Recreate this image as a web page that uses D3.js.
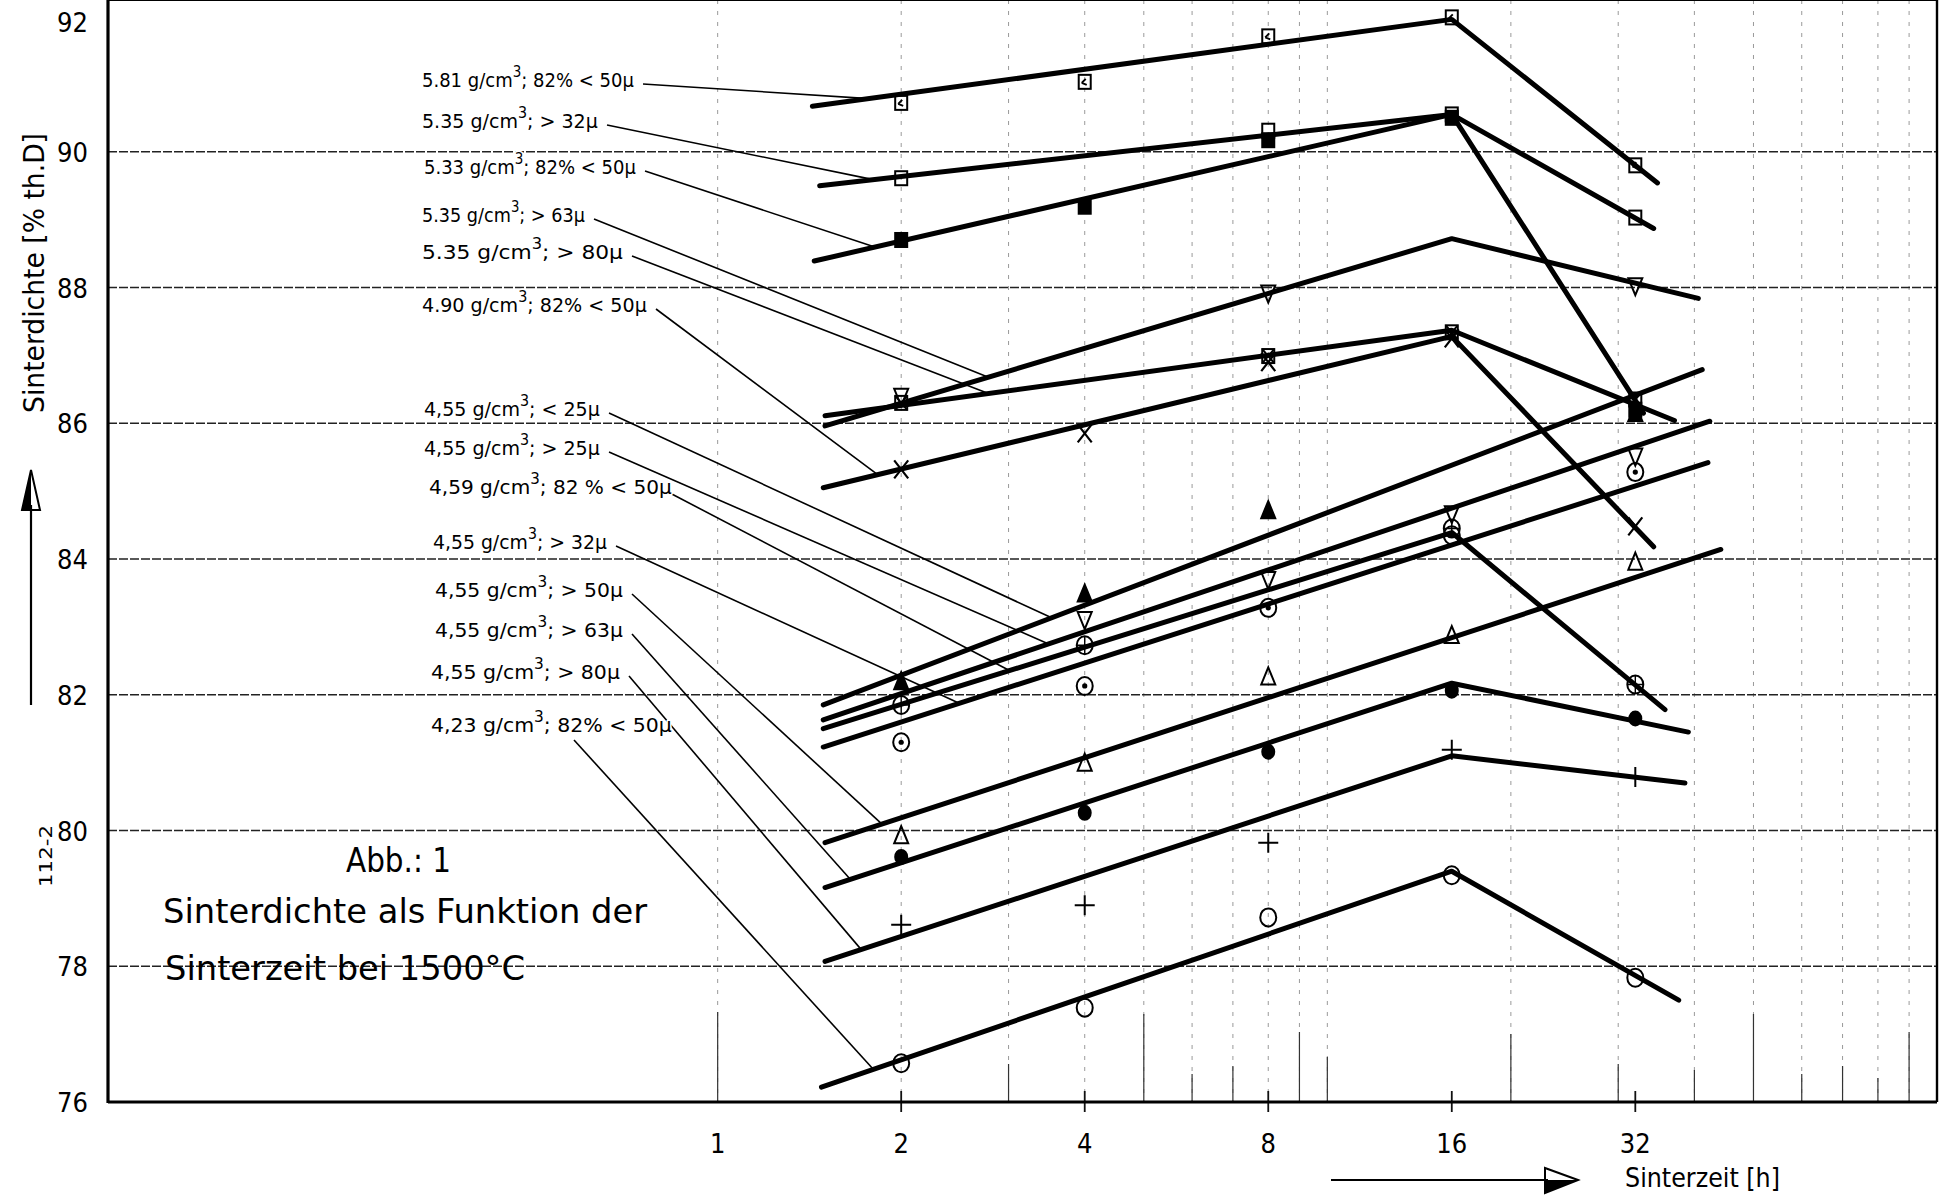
<!DOCTYPE html>
<html>
<head>
<meta charset="utf-8">
<script src="https://d3js.org/d3.v7.min.js"></script>
<style>
  body { margin: 0; background: #fff; }
</style>
</head>
<body>
<div id="chartContainer"></div>
<script>
// ---- data ----
// one entry per sample: green density, powder fraction
var densities = ["5.81", "5.35", "5.33", "5.35", "5.35", "4.90", "4,55", "4,55", "4,59", "4,55", "4,55", "4,55", "4,55", "4,23"];
var fractions = ["82% < 50µ", ">  32µ", "82% < 50µ", "> 63µ", ">  80µ", "82% < 50µ", "< 25µ", ">  25µ", "82 % < 50µ", ">  32µ", ">  50µ", ">  63µ", "> 80µ", "82% < 50µ"];
var symbols = ["squareTick", "square", "squareFilled", "triDown", "squareX", "cross45", "triFilled", "triDown", "circlePlus", "circleDot", "triUp", "dot", "plus", "circle"];

// measured sinter density [% th.D] at the sinter times (h)
var hours = [2, 4, 8, 16, 32];
var measured = [
  [90.72, 91.03, 91.70, 91.98, 89.80],
  [89.61, null, 90.31, 90.55, 89.03],
  [88.70, 89.19, 90.17, 90.50, 86.20],
  [86.39, null, 87.91, null, 88.02],
  [86.30, null, 86.99, 87.34, 86.35],
  [85.32, 85.85, 86.90, 87.25, 84.48],
  [82.20, 83.49, 84.72, null, 86.15],
  [null, 83.10, 83.69, 84.66, 85.51],
  [81.85, 82.73, null, 84.45, 82.15],
  [81.30, 82.13, 83.28, 84.35, 85.28],
  [79.93, 81.00, 82.27, 82.88, 83.96],
  [79.61, 80.26, 81.16, 82.06, 81.65],
  [78.61, 78.90, 79.82, 81.19, 80.79],
  [76.57, 77.39, 78.72, 79.34, 77.83]
];

// hand drawn trend lines: start, optional knee at 16 h, end
var fitStartH = [1.43, 1.47, 1.44, 1.5, 1.5, 1.49, 1.49, 1.49, 1.49, 1.49, 1.5, 1.5, 1.5, 1.48];
var fitStartV = [90.67, 89.50, 88.39, 85.96, 86.11, 85.05, 81.85, 81.63, 81.50, 81.23, 79.82, 79.16, 78.07, 76.22];
var fitPeakV  = [91.95, 90.55, 90.55, 88.72, 87.37, 87.28, null, null, 84.39, null, null, 82.17, 81.10, 79.40];
var fitEndH   = [34.8, 34.3, 33.0, 40.6, 37.1, 34.3, 41.2, 42.4, 35.8, 42.1, 44.2, 39.1, 38.6, 37.7];
var fitEndV   = [89.54, 88.87, 86.15, 87.84, 86.04, 84.18, 86.79, 86.03, 81.78, 85.42, 84.14, 81.45, 80.70, 77.50];

// sinter time where each label's pointer meets its line
var leaderH = [1.77, 1.80, 1.81, 2.78, 2.78, 1.83, 3.53, 3.49, 3.01, 2.49, 1.86, 1.65, 1.72, 1.80];

var yTicks = [76, 78, 80, 82, 84, 86, 88, 90, 92];
var xTicks = [1, 2, 4, 8, 16, 32];

// ---- layout ----
var W = 1949, H = 1196;
var condensed = "'DejaVu Sans Condensed', 'Liberation Sans Narrow', 'DejaVu Sans', sans-serif";
var labelX0 = [422, 422, 424, 422, 422, 422, 424, 424, 429, 433, 435, 435, 431, 431];
var labelX1 = [634, 598, 636, 585, 623, 647, 600, 600, 672, 607, 623, 623, 620, 672];
var labelBase = [87, 128, 174, 222, 259, 312, 416, 455, 494, 549, 597, 637, 679, 732];
var tickLenBottom = {1: 90, 2: 68, 3: 38, 4: 32, 5: 88, 6: 28, 7: 36, 8: 24, 9: 70};
var tickLenTop = {1: 22, 2: 60, 3: 38, 4: 36, 5: 30, 6: 18, 7: 26, 8: 18, 9: 55};

var svg = d3.select("#chartContainer").append("svg")
  .attr("width", W).attr("height", H)
  .style("background", "#fff");

var x = d3.scaleLog().domain([0.1, 100]).range([108, 1937]);
var y = d3.scaleLinear().domain([76, 92]).range([1102, 16]);
var left = x(0.1), right = x(100), top = y(92), bottom = y(76);

// log paper minors from 1 h to 90 h
var minors = [];
[1, 10].forEach(function (d) {
  for (var m = 1; m <= 9; m++) minors.push({ t: d * m, m: m });
});

// faint dashed vertical grid
svg.append("g").selectAll("line").data(minors).enter().append("line")
  .attr("x1", function (d) { return x(d.t); }).attr("x2", function (d) { return x(d.t); })
  .attr("y1", top).attr("y2", bottom)
  .attr("stroke", "#9a9a9a").attr("stroke-width", 1)
  .attr("stroke-dasharray", "4,7");

// horizontal grid
svg.append("g").selectAll("line").data(yTicks.slice(1, -1)).enter().append("line")
  .attr("x1", left).attr("x2", right)
  .attr("y1", function (d) { return y(d); }).attr("y2", function (d) { return y(d); })
  .attr("stroke", "#222").attr("stroke-width", 1.4)
  .attr("stroke-dasharray", "9,2");

// ticks rising from the time axis and hanging from the top edge
var plain = minors.filter(function (d) { return xTicks.indexOf(d.t) < 0 || d.t === 1; });
svg.append("g").selectAll("line").data(plain).enter().append("line")
  .attr("x1", function (d) { return x(d.t); }).attr("x2", function (d) { return x(d.t); })
  .attr("y1", bottom).attr("y2", function (d) { return bottom - (d.t === 10 ? 45 : tickLenBottom[d.m]); })
  .attr("stroke", "#333").attr("stroke-width", 1.2);
svg.append("g").selectAll("line").data(minors).enter().append("line")
  .attr("x1", function (d) { return x(d.t); }).attr("x2", function (d) { return x(d.t); })
  .attr("y1", top).attr("y2", function (d) { return top + (d.t === 10 ? 50 : tickLenTop[d.m]); })
  .attr("stroke", "#333").attr("stroke-width", 1.3);
svg.append("g").selectAll("line").data(xTicks.slice(1)).enter().append("line")
  .attr("x1", function (d) { return x(d); }).attr("x2", function (d) { return x(d); })
  .attr("y1", bottom - 11).attr("y2", bottom + 10)
  .attr("stroke", "#111").attr("stroke-width", 1.8);

// frame
svg.append("line").attr("x1", left).attr("x2", left).attr("y1", top - 1).attr("y2", bottom + 1)
  .attr("stroke", "#000").attr("stroke-width", 3.2);
svg.append("line").attr("x1", left).attr("x2", right).attr("y1", bottom).attr("y2", bottom)
  .attr("stroke", "#000").attr("stroke-width", 3.2);
svg.append("line").attr("x1", left).attr("x2", right).attr("y1", top).attr("y2", top)
  .attr("stroke", "#000").attr("stroke-width", 2);
svg.append("line").attr("x1", right).attr("x2", right).attr("y1", top).attr("y2", bottom)
  .attr("stroke", "#000").attr("stroke-width", 2.4);

// tick labels
svg.append("g").selectAll("text").data(yTicks).enter().append("text")
  .attr("x", 88).attr("y", function (d) { return Math.max(y(d) + 10, 32); })
  .attr("text-anchor", "end")
  .attr("font-family", condensed).attr("font-size", 27)
  .text(function (d) { return d; });
svg.append("g").selectAll("text").data(xTicks).enter().append("text")
  .attr("x", function (d) { return x(d); }).attr("y", 1153)
  .attr("text-anchor", "middle")
  .attr("font-family", condensed).attr("font-size", 27)
  .text(function (d) { return d; });

// axis titles and arrows
svg.append("text")
  .attr("transform", "translate(44,273) rotate(-90)")
  .attr("text-anchor", "middle")
  .attr("font-family", condensed).attr("font-size", 28)
  .attr("textLength", 280).attr("lengthAdjust", "spacingAndGlyphs")
  .text("Sinterdichte [% th.D]");
svg.append("text")
  .attr("transform", "translate(52,856) rotate(-90)")
  .attr("text-anchor", "middle")
  .attr("font-family", condensed).attr("font-size", 18)
  .attr("textLength", 62).attr("lengthAdjust", "spacingAndGlyphs")
  .text("112-2");

svg.append("line").attr("x1", 31).attr("x2", 31).attr("y1", 705).attr("y2", 505)
  .attr("stroke", "#000").attr("stroke-width", 2.2);
svg.append("path").attr("d", "M31,470 L22,510 L40,510 Z")
  .attr("fill", "none").attr("stroke", "#000").attr("stroke-width", 2);
svg.append("path").attr("d", "M31,470 L22,510 L31,510 Z").attr("fill", "#000");

svg.append("line").attr("x1", 1331).attr("x2", 1548).attr("y1", 1180).attr("y2", 1180)
  .attr("stroke", "#000").attr("stroke-width", 2.2);
svg.append("path").attr("d", "M1578,1180 L1545,1168 L1545,1193 Z")
  .attr("fill", "none").attr("stroke", "#000").attr("stroke-width", 2);
svg.append("path").attr("d", "M1578,1180 L1545,1180 L1545,1193 Z").attr("fill", "#000");

svg.append("text").attr("x", 1625).attr("y", 1187)
  .attr("font-family", condensed).attr("font-size", 27)
  .attr("textLength", 155).attr("lengthAdjust", "spacingAndGlyphs")
  .text("Sinterzeit [h]");

// figure caption
var caption = [
  { s: "Abb.: 1", x: 346, y: 872, w: 105 },
  { s: "Sinterdichte  als Funktion der", x: 163, y: 923, w: 484 },
  { s: "Sinterzeit bei 1500°C", x: 165, y: 980, w: 360 }
];
svg.append("g").selectAll("text").data(caption).enter().append("text")
  .attr("x", function (d) { return d.x; }).attr("y", function (d) { return d.y; })
  .attr("font-family", condensed).attr("font-size", 34)
  .attr("textLength", function (d) { return d.w; }).attr("lengthAdjust", "spacingAndGlyphs")
  .text(function (d) { return d.s; });

// ---- series ----
function fitPoints(i) {
  var p = [[fitStartH[i], fitStartV[i]]];
  if (fitPeakV[i] !== null) p.push([16, fitPeakV[i]]);
  p.push([fitEndH[i], fitEndV[i]]);
  return p;
}
function fitValueAt(i, h) {
  var p = fitPoints(i);
  for (var k = 0; k < p.length - 1; k++) {
    if (h <= p[k + 1][0] || k === p.length - 2) {
      var f = (Math.log(h) - Math.log(p[k][0])) / (Math.log(p[k + 1][0]) - Math.log(p[k][0]));
      return p[k][1] + f * (p[k + 1][1] - p[k][1]);
    }
  }
}

var line = d3.line().x(function (d) { return x(d[0]); }).y(function (d) { return y(d[1]); });

// pointers from the labels to the lines
var leaders = svg.append("g");
var labelsG = svg.append("g");
densities.forEach(function (dens, i) {
  var g = labelsG.append("g");
  var t = g.append("text")
    .attr("font-family", condensed).attr("font-size", 20)
    .attr("stroke", "#fff").attr("stroke-width", 3).attr("paint-order", "stroke")
    .attr("stroke-linejoin", "round");
  t.append("tspan").text(dens + " g/cm");
  t.append("tspan").attr("font-size", 15).attr("dy", -10).text("3");
  t.append("tspan").attr("dy", 10).text("; " + fractions[i]);
  var w = t.node().getComputedTextLength();
  var sx = (labelX1[i] - labelX0[i]) / w;
  g.attr("transform", "translate(" + labelX0[i] + "," + labelBase[i] + ") scale(" + sx + ",1)");

  var x0 = labelX1[i] + 9, y0 = labelBase[i] - 3;
  if (i === 13) { x0 = labelX0[i] + 143; y0 = labelBase[i] + 8; }
  if (i === 8) { x0 = labelX1[i] - 4; y0 = labelBase[i] - 2; }
  leaders.append("line")
    .attr("x1", x0).attr("y1", y0)
    .attr("x2", x(leaderH[i])).attr("y2", y(fitValueAt(i, leaderH[i])))
    .attr("stroke", "#000").attr("stroke-width", 1.6);
});

var fits = svg.append("g");
densities.forEach(function (d, i) {
  fits.append("path").datum(fitPoints(i))
    .attr("d", line)
    .attr("fill", "none").attr("stroke", "#000")
    .attr("stroke-width", 5).attr("stroke-linecap", "round").attr("stroke-linejoin", "round");
});

function marker(parent, kind, cx, cy) {
  var g = parent.append("g").attr("transform", "translate(" + cx + "," + cy + ")")
    .attr("stroke", "#000").attr("stroke-width", 2).attr("fill", "none");
  if (kind === "square" || kind === "squareTick" || kind === "squareX" || kind === "squareFilled") {
    g.append("rect").attr("x", -6).attr("y", -7).attr("width", 12).attr("height", 14)
      .attr("fill", kind === "squareFilled" ? "#000" : "none");
    if (kind === "squareTick") g.append("path").attr("d", "M-3,1 L1,-3 M-3,1 L2,3");
    if (kind === "squareX") g.append("path").attr("d", "M-6,-7 L6,7 M6,-7 L-6,7");
  } else if (kind === "triDown") {
    g.append("path").attr("d", "M-7,-8 L7,-8 L0,9 Z");
  } else if (kind === "triUp") {
    g.append("path").attr("d", "M0,-9 L7,8 L-7,8 Z");
  } else if (kind === "triFilled") {
    g.append("path").attr("d", "M0,-9 L7,8 L-7,8 Z").attr("fill", "#000");
  } else if (kind === "cross45") {
    g.append("path").attr("d", "M-7,-9 L7,9 M7,-9 L-7,9").attr("stroke-width", 2.2);
  } else if (kind === "plus") {
    g.append("path").attr("d", "M-10,0 L10,0 M0,-10 L0,10");
  } else if (kind === "circle") {
    g.append("ellipse").attr("rx", 8).attr("ry", 9);
  } else if (kind === "circlePlus") {
    g.append("ellipse").attr("rx", 8).attr("ry", 9);
    g.append("path").attr("d", "M-8,0 L8,0 M0,-9 L0,9").attr("stroke-width", 1.4);
  } else if (kind === "circleDot") {
    g.append("ellipse").attr("rx", 8).attr("ry", 9);
    g.append("circle").attr("r", 2.6).attr("fill", "#000").attr("stroke", "none");
  } else if (kind === "dot") {
    g.append("ellipse").attr("rx", 6).attr("ry", 7).attr("fill", "#000");
  }
}

var marks = svg.append("g");
measured.forEach(function (row, i) {
  row.forEach(function (v, k) {
    if (v === null) return;
    marker(marks, symbols[i], x(hours[k]), y(v));
  });
});
</script>
</body>
</html>
